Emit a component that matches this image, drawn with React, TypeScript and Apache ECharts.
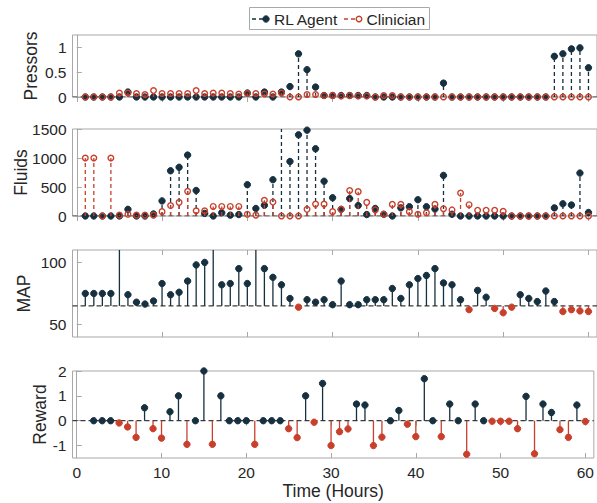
import React, { useEffect, useRef } from 'react';
import * as echarts from 'echarts';

// ---------- data ----------
const hours = [
  1, 2, 3, 4, 5, 6, 7, 8, 9, 10, 11, 12, 13, 14, 15, 16, 17, 18, 19, 20,
  21, 22, 23, 24, 25, 26, 27, 28, 29, 30, 31, 32, 33, 34, 35, 36, 37, 38, 39, 40,
  41, 42, 43, 44, 45, 46, 47, 48, 49, 50, 51, 52, 53, 54, 55, 56, 57, 58, 59, 60,
];

const pressorsRL = [
  0, 0, 0, 0, 0, 0.1, 0, 0, 0, 0, 0, 0, 0, 0, 0, 0, 0, 0, 0, 0.08,
  0, 0.1, 0, 0.1, 0.21, 0.87, 0.55, 0.2, 0.03, 0.03, 0.03, 0.03, 0.03, 0.03, 0, 0, 0, 0, 0, 0,
  0, 0, 0.28, 0, 0, 0, 0, 0, 0, 0, 0, 0, 0, 0, 0, 0.82, 0.87, 0.97, 0.99, 0.59,
];
const pressorsClinician = [
  0, 0, 0, 0, 0.08, 0.08, 0.07, 0.05, 0.13, 0.07, 0.07, 0.07, 0.07, 0.13, 0.07, 0.08, 0.08, 0.07, 0.06, 0.07,
  0.07, 0.06, 0.06, 0.08, 0, 0, 0.05, 0.05, 0.03, 0.03, 0.02, 0.03, 0.02, 0.02, 0, 0.03, 0.03, 0, 0, 0,
  0, 0, 0, 0, 0, 0, 0, 0, 0, 0, 0, 0, 0, 0, 0, 0, 0, 0, 0, 0,
];

const fluidsRL = [
  0, 0, 0, 0, 0, 115, 0, 0, 35, 260, 780, 840, 1050, 440, 45, 0, 55, 15, 25, 540,
  130, 185, 625, 1600, 940, 1400, 1480, 1160, 600, 315, 115, 300, 180, 25, 130, 30, 0, 140, 160, 280,
  160, 120, 700, 30, 0, 0, 0, 0, 0, 0, 0, 0, 0, 0, 0, 140, 210, 190, 740, 60,
];
const fluidsClinician = [
  1000, 1000, 0, 1000, 15, 30, 15, 15, 15, 75, 180, 235, 425, 90, 90, 165, 165, 165, 165, 30,
  15, 270, 240, 0, 0, 0, 115, 205, 205, 75, 115, 440, 420, 235, 105, 30, 200, 200, 75, 30,
  55, 200, 125, 105, 395, 195, 100, 100, 100, 80, 0, 0, 0, 0, 0, 0, 0, 0, 0, 0,
];

const mapValues = [
  75, 75, 75, 75, 118, 74, 68, 66.5, 69, 83, 74, 76, 85, 98, 100, 118, 82, 83, 95, 83,
  118, 95, 88, 82, 71, 64, 70, 68, 70, 66, 85, 66, 66, 70, 70, 70, 79, 71, 82, 87,
  89.5, 95, 83.5, 82, 70, 62, 77.5, 72, 63, 59.5, 64, 74, 71, 68.5, 77, 68.5, 60.5, 62, 61, 60.5,
];

const rewardValues: (number | null)[] = [
  null, 0, 0, 0, -0.09, -0.25, -0.67, 0.52, -0.32, -0.7, 0.36, 1.0, -0.95, 0, 2.0, -0.95, 1.0, 0, 0, 0,
  -0.95, 0, 0, 0, -0.32, -0.68, 1.0, -0.06, 1.5, -1.0, -0.44, -0.33, 0.67, 0.63, -1.0, -0.66, 0, 0.41, -0.14, -0.64,
  1.69, 0, -0.64, 0.67, 0, -1.35, 0.67, 0, -0.02, -0.02, -0.02, -0.32, 0.98, -1.33, 0.67, 0.33, -0.36, -0.67, 0.63, -0.03,
];

const xTickValues = [0, 10, 20, 30, 40, 50, 60];
const pressorsTicks = [0, 0.5, 1];
const fluidsTicks = [0, 500, 1000, 1500];
const mapTicks = [50, 100];
const rewardTicks = [-1, 0, 1, 2];

// ---------- style ----------
const NAVY = '#16303f';
const RED = '#c8402c';
const AXIS_GRAY = '#a8a8a8';
const TEXT = '#262626';
const BASE_COLOR = '#3c3c3c';
const FONT = '"Liberation Sans", Arial, Helvetica, sans-serif';
const X_MIN = -0.5;
const X_MAX = 61;
const GRID_LEFT = 72.5;
const GRID_WIDTH = 528;

type Panel = {
  top: number;
  height: number;
  min: number;
  max: number;
  ticks: number[];
  name: string;
  nameGap: number;
  base: number;
  bottomTicks: boolean;
  bottomLabels: boolean;
};

const panels: Panel[] = [
  { top: 35, height: 62, min: 0, max: 1.25, ticks: pressorsTicks, name: 'Pressors', nameGap: 33, base: 0, bottomTicks: false, bottomLabels: false },
  { top: 129, height: 87, min: 0, max: 1500, ticks: fluidsTicks, name: 'Fluids', nameGap: 43, base: 0, bottomTicks: false, bottomLabels: false },
  { top: 250, height: 87, min: 40, max: 110, ticks: mapTicks, name: 'MAP', nameGap: 40, base: 65, bottomTicks: true, bottomLabels: false },
  { top: 371, height: 87, min: -1.5, max: 2, ticks: rewardTicks, name: 'Reward', nameGap: 24, base: 0, bottomTicks: true, bottomLabels: true },
];

type Mode = 'rl' | 'clin' | 'signed';

function stemSeries(gi: number, values: (number | null)[], mode: Mode) {
  const p = panels[gi];
  const data = hours
    .map((h, i) => [h, values[i]])
    .filter((d) => d[1] !== null && d[1] !== undefined);
  return {
    type: 'custom',
    xAxisIndex: gi * 2,
    yAxisIndex: gi,
    silent: true,
    z: mode === 'clin' ? 5 : 4,
    data,
    encode: { x: 0, y: 1 },
    renderItem: (_params: any, api: any) => {
      const x = api.value(0) as number;
      const v = api.value(1) as number;
      const clipped = v > p.max;
      const tip = api.coord([x, clipped ? p.max : v]);
      const b = api.coord([x, p.base]);
      let stroke = NAVY;
      let dash: number[] | null = null;
      let fill = NAVY;
      let mStroke = NAVY;
      let r = 3.2;
      let mLw = 1;
      if (mode === 'rl') {
        dash = [4, 3];
      } else if (mode === 'clin') {
        stroke = RED;
        dash = [4, 3];
        fill = 'none';
        mStroke = RED;
        r = 2.8;
        mLw = 1.4;
      } else {
        const neg = v < p.base;
        stroke = neg ? RED : NAVY;
        fill = stroke;
        mStroke = stroke;
      }
      const children: any[] = [
        {
          type: 'line',
          shape: { x1: tip[0], y1: b[1], x2: tip[0], y2: tip[1] },
          style: { stroke, lineWidth: 1.3, lineDash: dash || undefined },
        },
      ];
      if (!clipped) {
        children.push({
          type: 'circle',
          shape: { cx: tip[0], cy: tip[1], r },
          style: { fill, stroke: mStroke, lineWidth: mLw },
        });
      }
      return { type: 'group', children };
    },
  };
}

function baselineSeries(gi: number) {
  const p = panels[gi];
  return {
    type: 'line',
    xAxisIndex: gi * 2,
    yAxisIndex: gi,
    silent: true,
    z: 3,
    symbol: 'none',
    data: [
      [X_MIN, p.base],
      [X_MAX, p.base],
    ],
    lineStyle: { color: BASE_COLOR, width: 1.2, type: [5, 3] },
  };
}

function buildOption() {
  const grid = panels.map((p) => ({
    left: GRID_LEFT,
    width: GRID_WIDTH,
    top: p.top,
    height: p.height,
    show: true,
    borderColor: AXIS_GRAY,
    borderWidth: 1,
  }));

  const xAxis: any[] = [];
  panels.forEach((p, gi) => {
    xAxis.push({
      type: 'value',
      gridIndex: gi,
      position: 'top',
      min: X_MIN,
      max: X_MAX,
      axisLine: { show: false },
      axisTick: { show: true, inside: true, length: 5, customValues: xTickValues, lineStyle: { color: AXIS_GRAY } },
      axisLabel: { show: false },
      splitLine: { show: false },
    });
    xAxis.push({
      type: 'value',
      gridIndex: gi,
      position: 'bottom',
      min: X_MIN,
      max: X_MAX,
      axisLine: { show: false },
      axisTick: { show: p.bottomTicks, inside: true, length: 5, customValues: xTickValues, lineStyle: { color: AXIS_GRAY } },
      axisLabel: {
        show: p.bottomLabels,
        customValues: xTickValues,
        color: TEXT,
        fontSize: 15.5,
        margin: 6,
        fontFamily: FONT,
        formatter: (v: number) => String(v),
      },
      splitLine: { show: false },
      name: p.bottomLabels ? 'Time (Hours)' : '',
      nameLocation: 'middle',
      nameGap: 24,
      nameMoveOverlap: false,
      nameTextStyle: { color: TEXT, fontSize: 17.5, fontFamily: FONT },
    });
  });

  const yAxis = panels.map((p, gi) => ({
    type: 'value',
    gridIndex: gi,
    min: p.min,
    max: p.max,
    position: 'left',
    axisLine: { show: true, lineStyle: { color: AXIS_GRAY, width: 1 } },
    axisTick: { show: true, inside: true, length: 5, customValues: p.ticks, lineStyle: { color: AXIS_GRAY } },
    axisLabel: {
      customValues: p.ticks,
      color: TEXT,
      fontSize: 15.5,
      margin: 6,
      fontFamily: FONT,
      formatter: (v: number) => String(v),
    },
    splitLine: { show: false },
    name: p.name,
    nameLocation: 'middle',
    nameRotate: 90,
    nameGap: p.nameGap,
    nameMoveOverlap: false,
    nameTextStyle: { color: TEXT, fontSize: 17.5, fontFamily: FONT },
  }));

  const series: any[] = [
    baselineSeries(0),
    stemSeries(0, pressorsRL, 'rl'),
    stemSeries(0, pressorsClinician, 'clin'),
    baselineSeries(1),
    stemSeries(1, fluidsRL, 'rl'),
    stemSeries(1, fluidsClinician, 'clin'),
    baselineSeries(2),
    stemSeries(2, mapValues, 'signed'),
    baselineSeries(3),
    stemSeries(3, rewardValues, 'signed'),
  ];

  const legendY = 19;
  const graphic = [
    {
      type: 'rect',
      shape: { x: 249.5, y: 7.5, width: 180, height: 22 },
      style: { fill: '#ffffff', stroke: AXIS_GRAY, lineWidth: 1 },
      z: 10,
    },
    {
      type: 'line',
      shape: { x1: 252, y1: legendY, x2: 264, y2: legendY },
      style: { stroke: NAVY, lineWidth: 1.3, lineDash: [4, 3] },
      z: 11,
    },
    {
      type: 'circle',
      shape: { cx: 266, cy: legendY, r: 3.2 },
      style: { fill: NAVY, stroke: NAVY, lineWidth: 1 },
      z: 11,
    },
    {
      type: 'text',
      x: 274,
      y: legendY,
      style: { text: 'RL Agent', fill: TEXT, fontSize: 15.5, fontFamily: FONT, verticalAlign: 'middle', align: 'left' },
      z: 11,
    },
    {
      type: 'line',
      shape: { x1: 344, y1: legendY, x2: 356, y2: legendY },
      style: { stroke: RED, lineWidth: 1.3, lineDash: [4, 3] },
      z: 11,
    },
    {
      type: 'circle',
      shape: { cx: 359, cy: legendY, r: 2.8 },
      style: { fill: 'none', stroke: RED, lineWidth: 1.4 },
      z: 11,
    },
    {
      type: 'text',
      x: 366.5,
      y: legendY,
      style: { text: 'Clinician', fill: TEXT, fontSize: 15.5, fontFamily: FONT, verticalAlign: 'middle', align: 'left' },
      z: 11,
    },
  ];

  return {
    animation: false,
    backgroundColor: '#ffffff',
    textStyle: { fontFamily: FONT },
    grid,
    xAxis,
    yAxis,
    series,
    graphic,
  };
}

export default function App() {
  const ref = useRef<HTMLDivElement>(null);
  useEffect(() => {
    if (!ref.current) return;
    const chart = echarts.init(ref.current, undefined, { renderer: 'svg' });
    chart.setOption(buildOption() as any);
    return () => {
      chart.dispose();
    };
  }, []);
  return (
    <div
      ref={ref}
      style={{ position: 'fixed', left: 0, top: 0, width: 597, height: 503, background: '#fff' }}
    />
  );
}
